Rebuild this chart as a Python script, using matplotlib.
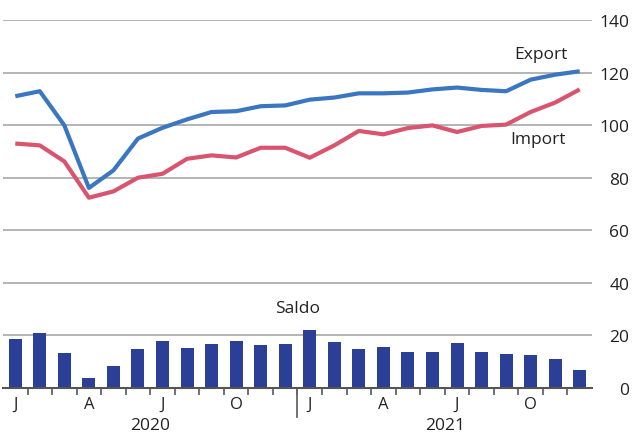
import matplotlib
matplotlib.use("Agg")
import matplotlib.pyplot as plt
import matplotlib.transforms as mtransforms
import numpy as np

months = ["J", "F", "M", "A", "M", "J", "J", "A", "S", "O", "N", "D"] * 2
years = ["2020", "2021"]
export_vals = [111.0, 112.9, 99.9, 76.1, 82.8, 94.9, 99.0, 102.2, 105.0, 105.3, 107.2, 107.5,
               109.7, 110.5, 112.1, 112.1, 112.4, 113.6, 114.3, 113.4, 112.9, 117.3, 119.2, 120.5]
import_vals = [93.0, 92.3, 86.2, 72.4, 74.8, 80.0, 81.5, 87.2, 88.5, 87.7, 91.4, 91.4,
               87.6, 92.3, 97.8, 96.5, 98.9, 99.9, 97.4, 99.7, 100.2, 105.0, 108.6, 113.6]
saldo_vals = [18.7, 20.9, 13.3, 3.8, 8.4, 14.9, 17.9, 15.2, 16.8, 17.9, 16.4, 16.8,
              22.1, 17.5, 14.9, 15.6, 13.7, 13.7, 17.1, 13.7, 12.9, 12.6, 11.0, 6.9]
yticks = [0, 20, 40, 60, 80, 100, 120, 140]

W, H = 638, 435
fig = plt.figure(figsize=(W / 100, H / 100), dpi=100)
plt.rcParams['font.family'] = ['Open Sans', 'DejaVu Sans']
ax = fig.add_axes([3 / W, (H - 389) / H, (592 - 3) / W, (389 - 21) / H])

x = np.arange(len(months))
ax.bar(x, saldo_vals, width=0.53, color="#2b3f97", zorder=3)
ax.plot(x, export_vals, color="#3b76c0", lw=3, zorder=4, solid_capstyle="butt")
ax.plot(x, import_vals, color="#d9546f", lw=3, zorder=4, solid_capstyle="butt")

ax.set_xlim(-0.5, len(months) - 0.5)
ax.set_ylim(0, 140)
ax.yaxis.tick_right()
ax.set_yticks(yticks)
ax.set_yticklabels([str(v) for v in yticks], fontsize=12.5, color="#222222")
ax.tick_params(axis="y", length=0, pad=27)
for lab in ax.get_yticklabels():
    lab.set_horizontalalignment("right")
ax.grid(axis="y", color="#a8a8a8", lw=1.2, zorder=1)
for s in ["top", "left", "right"]:
    ax.spines[s].set_visible(False)
ax.spines["bottom"].set_color("#555555")
ax.spines["bottom"].set_linewidth(1.5)
ax.spines["bottom"].set_zorder(5)

# month labels (J, A, J, O) at centers
lab_idx = [i for i in range(len(months)) if i % 3 == 0]
ax.set_xticks(lab_idx)
ax.set_xticklabels([months[i] for i in lab_idx], fontsize=12, color="#222222")
ax.tick_params(axis="x", length=0, pad=6)
# boundary ticks
ax.set_xticks(np.arange(0.5, len(months) - 0.5, 1.0), minor=True)
ax.tick_params(axis="x", which="minor", length=5, width=1.3, color="#666666", direction="out")

trans = mtransforms.blended_transform_factory(ax.transData, ax.transAxes)
ax.plot([11.5, 11.5], [0, -29 / 368], transform=trans, color="#666666", lw=1.3, clip_on=False)

for k, yr in enumerate(years):
    ax.text(k * 12 + 5.5, -45 / 368, yr, transform=trans, ha="center", va="bottom",
            fontsize=12.5, color="#222222")

ax.text(21.4, 127.2, "Export", fontsize=12.5, color="#222222", ha="center", va="center")
ax.text(21.3, 94.9, "Import", fontsize=12.5, color="#222222", ha="center", va="center")
ax.text(11.5, 30.5, "Saldo", fontsize=12.5, color="#222222", ha="center", va="center")

fig.savefig("out.png", dpi=100)
